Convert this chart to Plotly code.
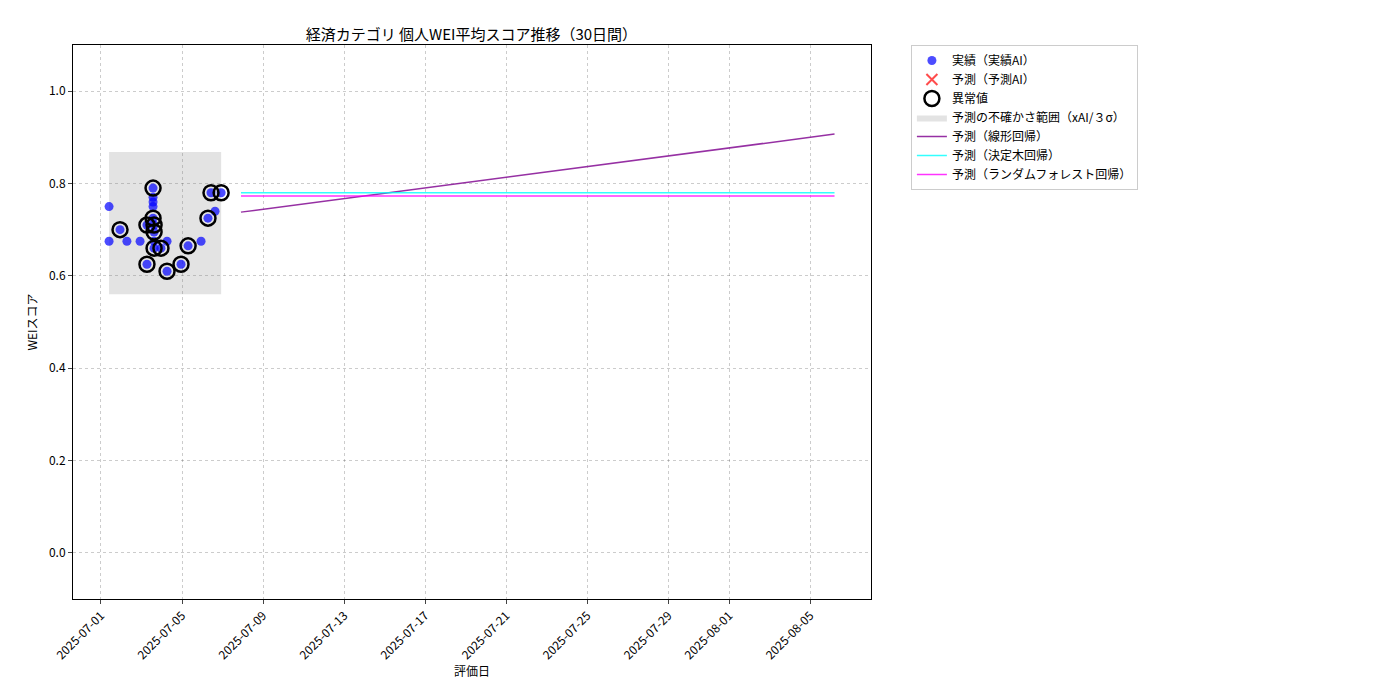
import pandas as pd
import plotly.graph_objects as go

base = pd.Timestamp("2025-07-01")

# actual scores: (day offset, score)
actual_days = [0.4, 0.4, 0.94, 1.28, 1.93, 2.27, 2.27, 2.57, 2.57, 2.57, 2.57, 2.57, 2.62, 2.62, 2.62,
               2.62, 2.96, 3.26, 3.26, 3.95, 4.3, 4.94, 5.28, 5.43, 5.63, 5.93]
actual_vals = [0.75, 0.675, 0.70, 0.675, 0.675, 0.625, 0.71, 0.79, 0.77, 0.76, 0.75, 0.725, 0.71,
               0.695, 0.66, 0.675, 0.66, 0.675, 0.61, 0.625, 0.665, 0.675, 0.725, 0.78, 0.74, 0.78]
outlier_days = [0.94, 2.27, 2.57, 2.57, 2.27, 2.62, 2.62, 2.62, 2.96, 3.26, 3.95, 4.3, 5.28, 5.43, 5.93]
outlier_vals = [0.70, 0.625, 0.79, 0.725, 0.71, 0.71, 0.695, 0.66, 0.66, 0.61, 0.625, 0.665, 0.725, 0.78, 0.78]

band_days = [0.4, 5.93]
band_vals = [0.56, 0.868]

pred_days = [6.91, 36.2]
linear_vals = [0.738, 0.907]
tree_vals = [0.780, 0.780]
forest_vals = [0.773, 0.773]

tick_dates = ["2025-07-01", "2025-07-05", "2025-07-09", "2025-07-13", "2025-07-17", "2025-07-21",
              "2025-07-25", "2025-07-29", "2025-08-01", "2025-08-05"]


def to_dates(days):
    return [base + pd.Timedelta(days=d) for d in days]


fig = go.Figure()

bx = to_dates(band_days)
fig.add_trace(go.Scatter(
    x=[bx[0], bx[1], bx[1], bx[0], bx[0]],
    y=[band_vals[0], band_vals[0], band_vals[1], band_vals[1], band_vals[0]],
    fill="toself", fillcolor="rgba(128,128,128,0.22)", line=dict(width=0),
    mode="lines", name="予測の不確かさ範囲（xAI/３σ）", legendrank=4,
))
fig.add_trace(go.Scatter(
    x=to_dates(actual_days), y=actual_vals, mode="markers",
    marker=dict(color="rgba(0,0,255,0.7)", size=9), name="実績（実績AI）", legendrank=1,
))
fig.add_trace(go.Scatter(
    x=[None], y=[None], mode="markers",
    marker=dict(color="rgba(255,0,0,0.7)", size=11, symbol="x-thin", line=dict(width=2, color="rgba(255,0,0,0.7)")),
    name="予測（予測AI）", legendrank=2,
))
fig.add_trace(go.Scatter(
    x=to_dates(outlier_days), y=outlier_vals, mode="markers",
    marker=dict(color="rgba(0,0,0,0)", size=15, line=dict(width=2.5, color="black")),
    name="異常値", legendrank=3,
))
fig.add_trace(go.Scatter(x=to_dates(pred_days), y=linear_vals, mode="lines",
                         line=dict(color="#8b1a9a", width=1.5), opacity=0.9,
                         name="予測（線形回帰）", legendrank=5))
fig.add_trace(go.Scatter(x=to_dates(pred_days), y=tree_vals, mode="lines",
                         line=dict(color="cyan", width=1.5), opacity=0.8,
                         name="予測（決定木回帰）", legendrank=6))
fig.add_trace(go.Scatter(x=to_dates(pred_days), y=forest_vals, mode="lines",
                         line=dict(color="magenta", width=1.5), opacity=0.8,
                         name="予測（ランダムフォレスト回帰）", legendrank=7))

grid = dict(showgrid=True, gridcolor="rgba(0,0,0,0.2)", griddash="dot", gridwidth=1,
            showline=True, linecolor="black", mirror=True, ticks="outside",
            ticklen=4, zeroline=False, tickfont=dict(size=12))

fig.update_layout(
    width=1400, height=700,
    font=dict(family="Noto Sans CJK JP", color="black", size=12),
    paper_bgcolor="white", plot_bgcolor="white",
    margin=dict(l=65, r=537, t=37, b=109, autoexpand=False),
    title=dict(text="経済カテゴリ 個人WEI平均スコア推移（30日間）", x=0.331, xanchor="center",
               y=0.97, font=dict(size=15)),
    legend=dict(x=1.05, y=1.0, xanchor="left", yanchor="top", bordercolor="#ccc",
                borderwidth=1, font=dict(size=12), tracegroupgap=0, itemwidth=30),
)
fig.update_xaxes(range=[base - pd.Timedelta(days=1.38), base + pd.Timedelta(days=38.0)],
                 tickvals=tick_dates, ticktext=tick_dates, tickangle=-45,
                 title=dict(text="評価日", standoff=2, font=dict(size=12)), **grid)
fig.update_yaxes(range=[-0.1, 1.1], tickvals=[0, 0.2, 0.4, 0.6, 0.8, 1.0], tickformat=".1f",
                 title=dict(text="WEIスコア", standoff=8, font=dict(size=12)), **grid)

fig.write_html("out.html")
